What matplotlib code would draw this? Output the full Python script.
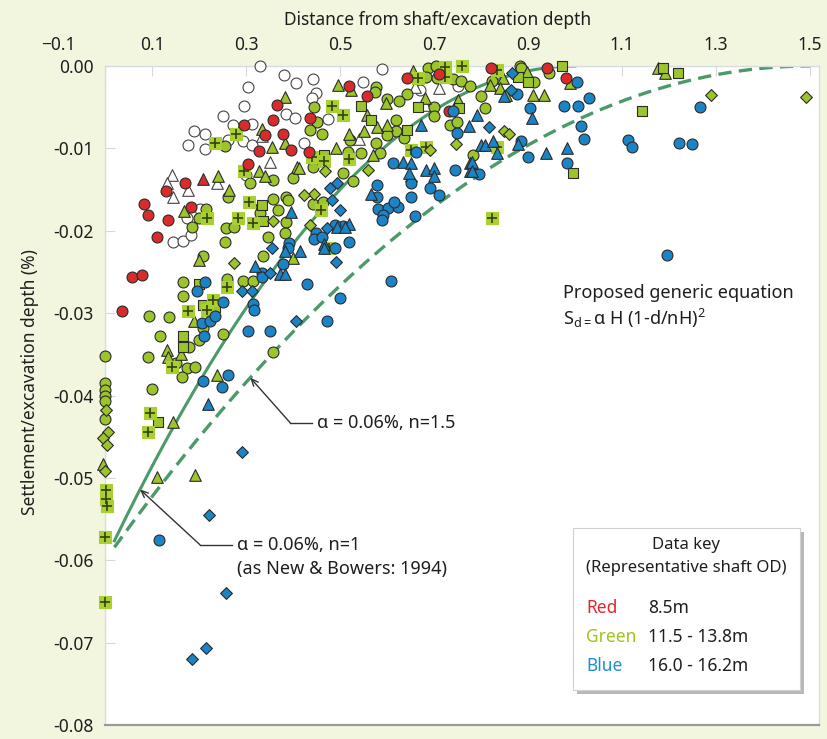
import numpy as np
import matplotlib.pyplot as plt
from matplotlib.patches import Rectangle
from matplotlib.ticker import FormatStrFormatter

plt.rcParams['font.family'] = ['Noto Sans', 'DejaVu Sans']
plt.rcParams['mathtext.fontset'] = 'custom'
plt.rcParams['mathtext.rm'] = 'Noto Sans'

# ---- data (distance/depth, settlement/depth %) ----
red_circle_x = [0.366, 0.357, 0.296, 0.378, 0.340, 0.328, 0.396, 0.304, 0.170, 0.129,
                0.082, 0.092, 0.135, 0.184, 0.110, 0.058, 0.079, 0.036, 0.520, 0.557,
                0.436, 0.434, 0.643, 0.711, 0.732, 0.821, 0.940, 0.980]
red_circle_y = [-0.0047, -0.0066, -0.0072, -0.0083, -0.0084, -0.0103, -0.0102, -0.0119, -0.0142, -0.0152,
                -0.0167, -0.0181, -0.0187, -0.0171, -0.0207, -0.0256, -0.0254, -0.0297, -0.0024, -0.0037,
                -0.0063, -0.0104, -0.0014, -0.0010, -0.0055, -0.0002, -0.0003, -0.0015]
red_tri_x = [0.209]
red_tri_y = [-0.0137]

open_circle_x = [0.330, 0.381, 0.406, 0.305, 0.296, 0.252, 0.273, 0.313, 0.385, 0.404,
                 0.190, 0.213, 0.176, 0.213, 0.262, 0.294, 0.312, 0.299, 0.202, 0.174,
                 0.145, 0.167, 0.184, 0.443, 0.449, 0.440, 0.548, 0.475, 0.423, 0.589,
                 0.670, 0.752]
open_circle_y = [0.0000, -0.0011, -0.0021, -0.0026, -0.0049, -0.0061, -0.0071, -0.0070, -0.0058, -0.0063,
                 -0.0079, -0.0082, -0.0096, -0.0101, -0.0090, -0.0091, -0.0096, -0.0132, -0.0174, -0.0184,
                 -0.0214, -0.0212, -0.0205, -0.0016, -0.0033, -0.0039, -0.0020, -0.0064, -0.0094, -0.0004,
                 -0.0029, -0.0024]
open_tri_x = [0.334, 0.351, 0.143, 0.131, 0.177, 0.145, 0.239, 0.541, 0.660, 0.681, 0.711]
open_tri_y = [-0.0085, -0.0116, -0.0132, -0.0142, -0.0150, -0.0159, -0.0142, -0.0089, -0.0025, -0.0047, -0.0027]

green_circle_x = [0.256, 0.308, 0.357, 0.401, 0.261, 0.357, 0.386, 0.390, 0.331, 0.369,
                  0.330, 0.215, 0.201, 0.257, 0.274, 0.186, 0.386,
                  0.577, 0.574, 0.445, 0.450, 0.461, 0.436, 0.599, 0.643, 0.626,
                  0.619, 0.619, 0.636, 0.599, 0.521, 0.577, 0.585, 0.518, 0.544, 0.442,
                  0.507, 0.527, 0.688, 0.704, 0.684, 0.706, 0.741, 0.757, 0.777, 0.700,
                  0.699, 0.733, 0.750, 0.782, 0.882, 0.886, 0.823, 0.913, 0.945, 0.800,
                  0.809, 0.443, 0.464,
                  0.255, 0.346, 0.383, 0.209, 0.337, 0.165, 0.259, 0.293, 0.314, 0.167,
                  0.094, 0.137, 0.209, 0.250, 0.116, 0.179, 0.199, 0.092, 0.152, 0.174,
                  0.191, 0.163, 0.099, 0.358, 0.000, 0.000, 0.000, 0.000, 0.000, 0.000]
green_circle_y = [-0.0097, -0.0142, -0.0138, -0.0136, -0.0159, -0.0161, -0.0159, -0.0163, -0.0171, -0.0175,
                  -0.0179, -0.0174, -0.0184, -0.0196, -0.0195, -0.0195, -0.0189,
                  -0.0025, -0.0031, -0.0050, -0.0068, -0.0083, -0.0078, -0.0040, -0.0034, -0.0043,
                  -0.0066, -0.0079, -0.0087, -0.0084, -0.0090, -0.0093, -0.0105, -0.0104, -0.0106, -0.0122,
                  -0.0130, -0.0140, -0.0002, 0.0000, -0.0013, -0.0015, -0.0016, -0.0018, -0.0024, -0.0050,
                  -0.0061, -0.0072, -0.0068, -0.0108, 0.0000, -0.0003, -0.0018, -0.0020, -0.0009, -0.0037,
                  -0.0051, -0.0167, -0.0165,
                  -0.0213, -0.0207, -0.0203, -0.0231, -0.0231, -0.0262, -0.0258, -0.0261, -0.0261, -0.0279,
                  -0.0303, -0.0305, -0.0318, -0.0325, -0.0328, -0.0341, -0.0333, -0.0353, -0.0361, -0.0367,
                  -0.0365, -0.0378, -0.0392, -0.0347, -0.0352, -0.0385, -0.0393, -0.0401, -0.0407, -0.0429]

green_tri_x = [0.384, 0.335, 0.355, 0.384, 0.328, 0.341, 0.409, 0.241, 0.264, 0.169,
               0.495, 0.523, 0.656, 0.598, 0.557, 0.578, 0.599, 0.551, 0.520, 0.491,
               0.571, 0.413, 0.681, 0.752, 0.846, 0.819, 0.840, 0.897, 0.989, 0.853,
               0.911, 0.935, 1.177, 1.191, 0.201, 0.189, 0.131, 0.135, 0.162, 0.238,
               0.401, 0.144, 0.110, 0.191, -0.005]
green_tri_y = [-0.0038, -0.0076, -0.0098, -0.0093, -0.0127, -0.0134, -0.0122, -0.0134, -0.0150, -0.0176,
               -0.0023, -0.0029, -0.0006, -0.0045, -0.0059, -0.0074, -0.0072, -0.0079, -0.0082, -0.0099,
               -0.0108, -0.0124, -0.0039, -0.0041, -0.0015, -0.0023, -0.0027, -0.0007, -0.0021, -0.0035,
               -0.0035, -0.0035, -0.0002, -0.0009, -0.0235, -0.0310, -0.0345, -0.0353, -0.0349, -0.0375,
               -0.0233, -0.0432, -0.0499, -0.0496, -0.0483]

green_square_x = [0.335, 0.337, 0.545, 0.566, 0.643, 0.667, 0.465, 0.754, 0.973, 0.879,
                  0.901, 1.143, 0.996, 1.188, 1.220, 0.201, 0.209, 0.234, 0.165, 0.167, 0.113]
green_square_y = [-0.0169, -0.0188, -0.0049, -0.0066, -0.0078, -0.0050, -0.0108, -0.0051, 0.0000, -0.0013,
                  -0.0019, -0.0055, -0.0130, -0.0003, -0.0008, -0.0264, -0.0290, -0.0292, -0.0328, -0.0341, -0.0432]

green_plus_x = [0.233, 0.278, 0.296, 0.306, 0.218, 0.284, 0.315, 0.482, 0.507, 0.440,
                0.467, 0.520, 0.652, 0.684, 0.459, 0.665, 0.723, 0.759, 0.723, 0.833,
                0.835, 0.823, 0.260, 0.229, 0.216, 0.177, 0.142, 0.477, 0.096, 0.091,
                0.003, 0.003, 0.005, 0.000, 0.000]
green_plus_y = [-0.0093, -0.0083, -0.0128, -0.0165, -0.0185, -0.0185, -0.0191, -0.0049, -0.0059, -0.0110,
                -0.0115, -0.0113, -0.0102, -0.0098, -0.0175, -0.0015, -0.0001, 0.0000, -0.0013, -0.0005,
                -0.0098, -0.0185, -0.0268, -0.0284, -0.0296, -0.0297, -0.0365, -0.0221, -0.0421, -0.0444,
                -0.0515, -0.0526, -0.0534, -0.0571, -0.0650]

green_diamond_x = [0.357, 0.560, 0.468, 0.691, 0.746, 0.445, 0.423, 0.436, 0.650, 0.850,
                   0.860, 1.289, 1.491, 0.274, 0.002, 0.007, -0.004, 0.005, 0.000]
green_diamond_y = [-0.0188, -0.0126, -0.0128, -0.0102, -0.0095, -0.0155, -0.0156, -0.0193, -0.0140, -0.0079,
                   -0.0082, -0.0035, -0.0038, -0.0239, -0.0417, -0.0444, -0.0451, -0.0460, -0.0491]

blue_circle_x = [0.740, 0.748, 0.612, 0.662, 0.745, 0.579, 0.652, 0.652, 0.691, 0.711,
                 0.578, 0.581, 0.603, 0.624, 0.614, 0.591, 0.660, 0.507, 0.489,
                 0.876, 1.005, 0.904, 0.977, 1.007, 1.030, 1.013, 1.020, 1.113, 1.122,
                 0.886, 0.901, 0.984, 0.796, 1.265, 1.222, 1.248, 1.196,
                 0.392, 0.390, 0.378, 0.333, 0.333, 0.213, 0.195, 0.252, 0.314, 0.317,
                 0.206, 0.223, 0.234, 0.211, 0.305, 0.351, 0.262, 0.209, 0.248, 0.115,
                 0.449, 0.445, 0.461, 0.489, 0.520, 0.590, 0.430, 0.609, 0.500, 0.472]
blue_circle_y = [-0.0055, -0.0081, -0.0118, -0.0104, -0.0126, -0.0144, -0.0142, -0.0159, -0.0148, -0.0157,
                 -0.0159, -0.0173, -0.0172, -0.0171, -0.0165, -0.0181, -0.0182, -0.0194, -0.0193,
                 -0.0034, -0.0020, -0.0051, -0.0048, -0.0048, -0.0039, -0.0073, -0.0089, -0.0090, -0.0098,
                 -0.0091, -0.0111, -0.0118, -0.0131, -0.0050, -0.0093, -0.0095, -0.0229,
                 -0.0215, -0.0221, -0.0240, -0.0251, -0.0256, -0.0262, -0.0273, -0.0287, -0.0289, -0.0296,
                 -0.0312, -0.0310, -0.0304, -0.0328, -0.0321, -0.0321, -0.0375, -0.0382, -0.0390, -0.0575,
                 -0.0203, -0.0210, -0.0207, -0.0221, -0.0213, -0.0187, -0.0264, -0.0261, -0.0281, -0.0309]

blue_tri_x = [0.672, 0.775, 0.635, 0.652, 0.684, 0.701, 0.699, 0.647, 0.777, 0.777,
              0.566, 0.520, 0.396, 0.848, 0.908, 0.791, 0.801, 0.809, 0.825, 0.833,
              0.879, 0.938, 0.982, 0.780, 0.780, 0.493, 0.511, 0.465, 0.465, 0.415,
              0.383, 0.319, 0.372, 0.383, 0.220]
blue_tri_y = [-0.0071, -0.0073, -0.0116, -0.0118, -0.0126, -0.0124, -0.0134, -0.0130, -0.0118, -0.0128,
              -0.0155, -0.0192, -0.0177, -0.0036, -0.0063, -0.0059, -0.0096, -0.0096, -0.0091, -0.0106,
              -0.0095, -0.0106, -0.0100, -0.0116, -0.0127, -0.0195, -0.0195, -0.0216, -0.0221, -0.0225,
              -0.0225, -0.0243, -0.0252, -0.0253, -0.0410]

blue_diamond_x = [0.479, 0.493, 0.484, 0.500, 0.865, 0.863, 0.816, 0.472, 0.491, 0.355,
                  0.351, 0.291, 0.313, 0.406, 0.292, 0.221, 0.257, 0.215, 0.186]
blue_diamond_y = [-0.0148, -0.0142, -0.0163, -0.0175, -0.0009, -0.0029, -0.0074, -0.0197, -0.0238, -0.0221,
                  -0.0251, -0.0273, -0.0273, -0.0310, -0.0469, -0.0545, -0.0639, -0.0706, -0.0720]

# proposed equation S = alpha*H*(1 - d/nH)^2
alpha = 0.06
n_values = [1.0, 1.5]

x_ticks = [0.1, 0.3, 0.5, 0.7, 0.9, 1.1, 1.3, 1.5]
y_ticks = [0.0, -0.01, -0.02, -0.03, -0.04, -0.05, -0.06, -0.07, -0.08]

RED = '#d92b2c'
GREEN = '#9cc52b'
BLUE = '#1b84c6'
EDGE = '#2b2b2b'
LINE = '#4b9a68'
TXT = '#1e1e1e'

fig = plt.figure(figsize=(8.27, 7.39), dpi=100, facecolor='#f3f6df')
ax = fig.add_axes([105 / 827, 1 - 725.2 / 739, 1.52 * 470 / 827, 659.2 / 739])
ax.set_facecolor('white')
ax.set_xlim(0, 1.52)
ax.set_ylim(-0.08, 0)

# curves
for n, ls in zip(n_values, ['-', '--']):
    d = np.linspace(0.02, n, 200)
    s = -alpha * (1 - d / n) ** 2
    if ls == '-':
        ax.plot(d, s, color=LINE, lw=2.2, zorder=2)
    else:
        ax.plot(d, s, color=LINE, lw=2.4, dashes=(4, 2.2), zorder=2)


def pts(xs, ys, marker, face, size=62, edge=EDGE, lw=0.8):
    ax.scatter(xs, ys, s=size, marker=marker, facecolor=face, edgecolor=edge,
               linewidth=lw, zorder=3, clip_on=False)


pts(open_circle_x, open_circle_y, 'o', 'white', edge='#444444')
pts(open_tri_x, open_tri_y, '^', 'white', size=70, edge='#444444')
pts(green_circle_x, green_circle_y, 'o', GREEN)
pts(green_tri_x, green_tri_y, '^', GREEN, size=70)
pts(green_square_x, green_square_y, 's', GREEN, size=60)
pts(green_plus_x, green_plus_y, 's', '#a8d030', size=72, edge='#a8d030')
ax.scatter(green_plus_x, green_plus_y, s=55, marker='+', color='#34420f',
           linewidth=1.2, zorder=3, clip_on=False)
pts(green_diamond_x, green_diamond_y, 'D', GREEN, size=36)
pts(red_circle_x, red_circle_y, 'o', RED)
pts(red_tri_x, red_tri_y, '^', RED, size=70)
pts(blue_circle_x, blue_circle_y, 'o', BLUE)
pts(blue_tri_x, blue_tri_y, '^', BLUE, size=70)
pts(blue_diamond_x, blue_diamond_y, 'D', BLUE, size=36)

# axes styling
ax.xaxis.tick_top()
ax.set_xticks(x_ticks)
ax.set_yticks(y_ticks)
ax.xaxis.set_major_formatter(FormatStrFormatter('%.1f'))
ax.yaxis.set_major_formatter(FormatStrFormatter('%.2f'))
ax.tick_params(axis='both', direction='in', length=7, color='#d8d8d8',
               labelsize=12.5, labelcolor=TXT)
ax.tick_params(axis='x', pad=9)
ax.tick_params(axis='y', pad=8)
ax.annotate('\u22120.1', xy=(-0.1, 1), xycoords=('data', 'axes fraction'),
            xytext=(0, 9), textcoords='offset points', ha='center', va='bottom',
            fontsize=12.5, color=TXT, annotation_clip=False)
for side in ['top', 'left', 'right']:
    ax.spines[side].set_color('#d6dde0')
    ax.spines[side].set_linewidth(1.0)
ax.spines['bottom'].set_color('#9a9a9a')
ax.spines['bottom'].set_linewidth(1.6)

fig.text(438 / 827, 1 - 20 / 739, 'Distance from shaft/excavation depth',
         ha='center', va='center', fontsize=12.5, color=TXT, fontweight='medium')
fig.text(30 / 827, 1 - 382 / 739, 'Settlement/excavation depth (%)',
         ha='center', va='center', rotation=90, fontsize=12.5, color=TXT,
         fontweight='medium')

# annotations for the curves: text, short horizontal leader, diagonal arrow
leaders = [
    # text, text x, text y, corner x, point on curve (d), n
    ('\u03b1 = 0.06%, n=1.5', 0.451, -0.0433, 0.394, 0.309, 1.5),
    ('\u03b1 = 0.06%, n=1', 0.281, -0.0581, 0.202, 0.0745, 1.0),
]
for label, tx, ty, cx, dp, n in leaders:
    ax.text(tx, ty, label, ha='left', va='center', fontsize=13, color=TXT,
            fontweight='medium')
    ax.plot([cx, tx - 0.01], [ty, ty], color='#333333', lw=1.0, zorder=4)
    ax.annotate('', xy=(dp, -alpha * (1 - dp / n) ** 2), xytext=(cx, ty),
                arrowprops=dict(arrowstyle='->,head_length=0.5,head_width=0.22',
                                color='#333333', lw=1.0, shrinkA=0, shrinkB=0))
ax.text(0.281, -0.0611, '(as New & Bowers: 1994)', ha='left', va='center',
        fontsize=13, color=TXT, fontweight='medium')

ax.text(0.974, -0.0275, 'Proposed generic equation', ha='left', va='center',
        fontsize=13, color=TXT, fontweight='medium')
ax.text(0.974, -0.0306, 'S$_{\\mathrm{d=}}$\u03b1 H (1-d/nH)$^{\\mathrm{2}}$', ha='left',
        va='center', fontsize=13, color=TXT, fontweight='medium')

# data key box
fig.patches.append(Rectangle((577 / 827, 1 - 694 / 739), 227 / 827, 162 / 739,
                             transform=fig.transFigure, facecolor='#b8b8b8',
                             edgecolor='none', zorder=4))
fig.patches.append(Rectangle((573 / 827, 1 - 690 / 739), 227 / 827, 162 / 739,
                             transform=fig.transFigure, facecolor='white',
                             edgecolor='#d0d0d0', lw=0.8, zorder=5))
fig.text(686 / 827, 1 - 545 / 739, 'Data key', ha='center', va='center',
         fontsize=12, color=TXT, zorder=6, fontweight='medium')
fig.text(686 / 827, 1 - 568 / 739, '(Representative shaft OD)', ha='center',
         va='center', fontsize=12, color=TXT, zorder=6, fontweight='medium')
key_names = ['Red', 'Green', 'Blue']
key_sizes = ['8.5m', '11.5 - 13.8m', '16.0 - 16.2m']
key_colors = ['#e0262c', '#9dc41e', '#1d8fd6']
for i, (nm, sz, c) in enumerate(zip(key_names, key_sizes, key_colors)):
    yy = 1 - (608 + 29 * i) / 739
    fig.text(586 / 827, yy, nm, ha='left', va='center', fontsize=12.5, color=c,
             zorder=6, fontweight='medium')
    fig.text(648 / 827, yy, sz, ha='left', va='center', fontsize=12.5, color=TXT,
             zorder=6, fontweight='medium')

fig.savefig('out.png', dpi=100, facecolor=fig.get_facecolor())
